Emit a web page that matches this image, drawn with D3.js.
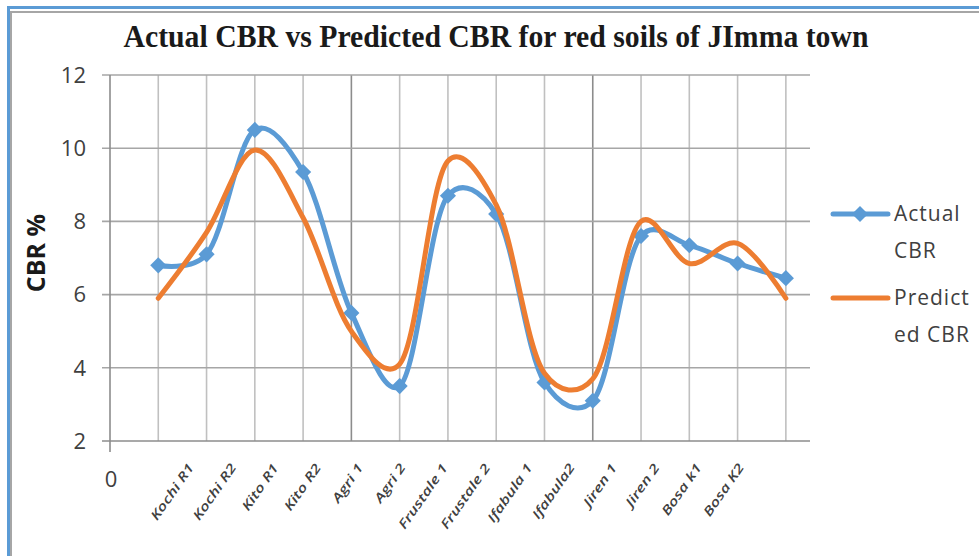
<!DOCTYPE html>
<html>
<head>
<meta charset="utf-8">
<script src="https://cdn.jsdelivr.net/npm/d3@7"></script>
<style>
  html, body { margin: 0; padding: 0; background: #fff; }
  svg { display: block; }
</style>
</head>
<body>
<svg id="chart" width="979" height="556"></svg>
<script>
// ---- data ----
const categories = ["Kochi R1", "Kochi R2", "Kito R1", "Kito R2", "Agri 1", "Agri 2",
  "Frustale 1", "Frustale 2", "Ifabula 1", "Ifabula2", "Jiren 1", "Jiren 2", "Bosa k1", "Bosa K2"];
const actualCBR = [6.8, 7.1, 10.5, 9.35, 5.5, 3.5, 8.7, 8.2, 3.6, 3.1, 7.6, 7.35, 6.85, 6.45];
const predictedCBR = [5.9, 7.7, 9.95, 8.1, 5.0, 4.1, 9.65, 8.45, 3.85, 3.7, 8.0, 6.85, 7.4, 5.9];
const yTicks = [2, 4, 6, 8, 10, 12];
const xTicks = [0];
const seriesNames = [["Actual", "CBR"], ["Predict", "ed CBR"]];
const title = "Actual CBR vs Predicted CBR for red soils of JImma town";

// ---- layout ----
const svg = d3.select("#chart");
const blue = "#5b9bd5", orange = "#ed7d31";
const x = d3.scaleLinear().domain([0, 14.5]).range([110, 810]);
const y = d3.scaleLinear().domain([2, 12]).range([441, 75]);
const labelX = d3.scalePoint().domain(categories).range([191, 741]);

// frame
svg.append("line").attr("x1", 7).attr("x2", 979).attr("y1", 7.5).attr("y2", 7.5)
  .attr("stroke", blue).attr("stroke-width", 3);
svg.append("line").attr("x1", 8.5).attr("x2", 8.5).attr("y1", 6).attr("y2", 556)
  .attr("stroke", blue).attr("stroke-width", 3);
svg.append("line").attr("x1", 10).attr("x2", 979).attr("y1", 12).attr("y2", 12)
  .attr("stroke", "#a6a6a6").attr("stroke-width", 2);
svg.append("line").attr("x1", 11).attr("x2", 11).attr("y1", 11).attr("y2", 556)
  .attr("stroke", "#a6a6a6").attr("stroke-width", 2);

// title
svg.append("text").attr("x", 496).attr("y", 47).attr("text-anchor", "middle")
  .attr("font-family", "Liberation Serif, serif").attr("font-weight", "bold")
  .attr("font-size", 31).attr("textLength", 745).attr("lengthAdjust", "spacingAndGlyphs")
  .attr("fill", "#1a1a1a").text(title);

// vertical gridlines
const vIdx = d3.range(1, categories.length + 1);
svg.append("g").selectAll("line").data(vIdx).join("line")
  .attr("x1", d => x(d)).attr("x2", d => x(d))
  .attr("y1", y(12)).attr("y2", y(2))
  .attr("stroke", d => d % 5 === 0 ? "#8c8c8c" : "#c0c0c0")
  .attr("stroke-width", 1.6);

// horizontal gridlines (with outward tick)
svg.append("g").selectAll("line").data(yTicks).join("line")
  .attr("x1", x(0) - 8).attr("x2", x(14.5))
  .attr("y1", d => y(d)).attr("y2", d => y(d))
  .attr("stroke", d => d === 2 ? "#8c8c8c" : "#a6a6a6")
  .attr("stroke-width", 1.6);

// y axis line and x tick at 0
svg.append("line").attr("x1", x(0)).attr("x2", x(0)).attr("y1", y(12)).attr("y2", y(2) + 11)
  .attr("stroke", "#8c8c8c").attr("stroke-width", 1.6);

// y tick labels
svg.append("g").selectAll("text").data(yTicks).join("text")
  .attr("x", 86).attr("y", d => y(d)).attr("dy", "0.35em")
  .attr("text-anchor", "end").attr("font-family", "Open Sans, sans-serif")
  .attr("font-size", 22).attr("fill", "#404040").text(d => d);

// x tick label 0
svg.append("g").selectAll("text").data(xTicks).join("text")
  .attr("x", d => x(d) + 1).attr("y", 479).attr("dy", "0.35em")
  .attr("text-anchor", "middle").attr("font-family", "Open Sans, sans-serif")
  .attr("font-size", 22).attr("fill", "#404040").text(d => d);

// category labels
svg.append("g").selectAll("text").data(categories).join("text")
  .attr("transform", d => `translate(${labelX(d)},465) rotate(-55) scale(1.35,1)`)
  .attr("text-anchor", "end").attr("dy", "0.35em")
  .attr("font-family", "Open Sans, sans-serif").attr("font-style", "italic")
  .attr("font-weight", 600)
  .attr("font-size", 12.5).attr("fill", "#404040").text(d => d);

// y axis title
svg.append("text").attr("transform", "translate(45,253) rotate(-90)")
  .attr("text-anchor", "middle").attr("font-family", "Open Sans, sans-serif")
  .attr("font-weight", "bold").attr("font-size", 25).attr("fill", "#1a1a1a").text("CBR %");

// series
const line = d3.line().x((d, i) => x(i + 1)).y(d => y(d)).curve(d3.curveCatmullRom.alpha(0.2));
const diamond = d3.symbol().type(d3.symbolSquare).size(130);

svg.append("path").datum(actualCBR).attr("d", line)
  .attr("fill", "none").attr("stroke", blue).attr("stroke-width", 5).attr("stroke-linejoin", "round");
svg.append("g").selectAll("path").data(actualCBR).join("path")
  .attr("d", diamond).attr("fill", blue)
  .attr("transform", (d, i) => `translate(${x(i + 1)},${y(d)}) rotate(45)`);

svg.append("path").datum(predictedCBR).attr("d", line)
  .attr("fill", "none").attr("stroke", orange).attr("stroke-width", 5)
  .attr("stroke-linejoin", "round").attr("stroke-linecap", "round");

// legend
const lg = svg.append("g");
const legendY = [214, 298];
const legendColors = [blue, orange];
lg.selectAll("line").data(legendY).join("line")
  .attr("x1", 833).attr("x2", 888).attr("y1", d => d).attr("y2", d => d)
  .attr("stroke", (d, i) => legendColors[i]).attr("stroke-width", 5).attr("stroke-linecap", "round");
lg.append("path").attr("d", diamond).attr("fill", blue)
  .attr("transform", `translate(860,${legendY[0]}) rotate(45)`);
seriesNames.forEach((lines, i) => {
  lines.forEach((t, j) => {
    lg.append("text").attr("x", 894).attr("y", legendY[i] + j * 37).attr("dy", "0.35em")
      .attr("font-family", "Open Sans, sans-serif").attr("font-size", 21)
      .attr("letter-spacing", 1).attr("fill", "#404040").text(t);
  });
});
</script>
</body>
</html>
